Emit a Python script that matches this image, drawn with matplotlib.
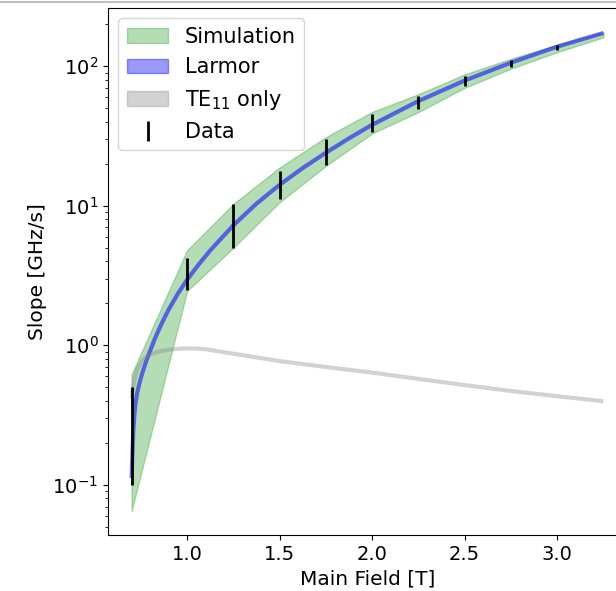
import numpy as np
import matplotlib
matplotlib.use("Agg")
import matplotlib.pyplot as plt
from matplotlib.patches import Patch
from matplotlib.lines import Line2D

# simulation band (linear between simulated fields)
sim_field = [0.7, 1.0, 1.25, 1.5, 1.75, 2.0, 2.25, 2.5, 2.75, 3.0, 3.25]
sim_low = [0.065, 2.45, 5.0, 10.6, 19.3, 33.0, 46.9, 70.0, 96.0, 126.0, 161.0]
sim_high = [0.62, 4.8, 10.3, 18.8, 31.0, 47.0, 63.0, 87.3, 113.0, 142.5, 176.0]

# Larmor prediction
larmor_field = [0.700, 0.705, 0.710, 0.715, 0.720, 0.730, 0.740, 0.750, 0.760,
                0.780, 0.800, 0.825, 0.850, 0.875, 0.900, 0.950, 1.000, 1.060,
                1.125, 1.250, 1.375, 1.500, 1.625, 1.750, 1.875, 2.000, 2.250,
                2.500, 2.750, 3.000, 3.250]
larmor_slope = [0.112, 0.174, 0.251, 0.316, 0.372, 0.452, 0.519, 0.582, 0.646,
                0.776, 0.912, 1.109, 1.318, 1.549, 1.799, 2.344, 2.951, 3.758,
                4.786, 7.244, 10.35, 14.13, 18.62, 23.99, 30.41, 38.02, 56.23,
                78.89, 105.9, 138.0, 173.0]

# TE11 only
te11_field = [0.70, 0.71, 0.72, 0.73, 0.75, 0.77, 0.80, 0.85, 0.90, 0.95, 1.00,
              1.05, 1.10, 1.25, 1.50, 1.75, 2.00, 2.25, 2.50, 2.75, 3.00, 3.25]
te11_slope = [0.42, 0.52, 0.60, 0.67, 0.75, 0.81, 0.86, 0.905, 0.93, 0.945, 0.951,
              0.948, 0.938, 0.871, 0.771, 0.70, 0.638, 0.575, 0.519, 0.471, 0.432, 0.398]

# measured slopes (ranges)
data_field = [0.7, 1.0, 1.25, 1.5, 1.75, 2.0, 2.25, 2.5, 2.75, 3.0]
data_low = [0.10, 2.5, 5.0, 11.2, 19.7, 34.0, 49.5, 71.9, 99.5, 130.0]
data_high = [0.50, 4.2, 10.3, 17.8, 30.3, 45.8, 60.9, 84.4, 110.0, 143.0]

plt.rcParams["font.size"] = 14.5

fig = plt.figure(figsize=(6.16, 5.91), dpi=100)
ax = fig.add_axes([0.1753, 0.0948, 0.8425, 0.8917])

ax.fill_between(sim_field, sim_low, sim_high, color="tab:green", alpha=0.35, linewidth=1)
ax.plot(larmor_field, larmor_slope, color="blue", alpha=0.55, linewidth=3, solid_capstyle="butt")
ax.plot(te11_field, te11_slope, color="gray", alpha=0.35, linewidth=3, solid_capstyle="butt")

dlow = np.array(data_low)
dhigh = np.array(data_high)
center = (dlow + dhigh) / 2
ax.errorbar(data_field, center, yerr=[center - dlow, dhigh - center],
            fmt="none", ecolor="black", elinewidth=2)

ax.set_yscale("log")
ax.set_xticks([1.0, 1.5, 2.0, 2.5, 3.0])
ax.set_xlabel("Main Field [T]")
ax.set_ylabel("Slope [GHz/s]")
ax.tick_params(labelsize=14)

handles = [
    Patch(facecolor="tab:green", edgecolor="tab:green", alpha=0.35, label="Simulation"),
    Patch(facecolor="blue", edgecolor="blue", alpha=0.4, label="Larmor"),
    Patch(facecolor="gray", edgecolor="gray", alpha=0.35, label="TE$_{11}$ only"),
    Line2D([], [], color="black", linestyle="none", marker="|", markersize=14,
           markeredgewidth=2, label="Data"),
]
ax.legend(handles=handles, loc="upper left", fontsize=15)

fig.add_artist(Line2D([0, 1], [0.996, 0.996], color="#c0c0c0", linewidth=1.5))

fig.savefig("out.png", dpi=100)
